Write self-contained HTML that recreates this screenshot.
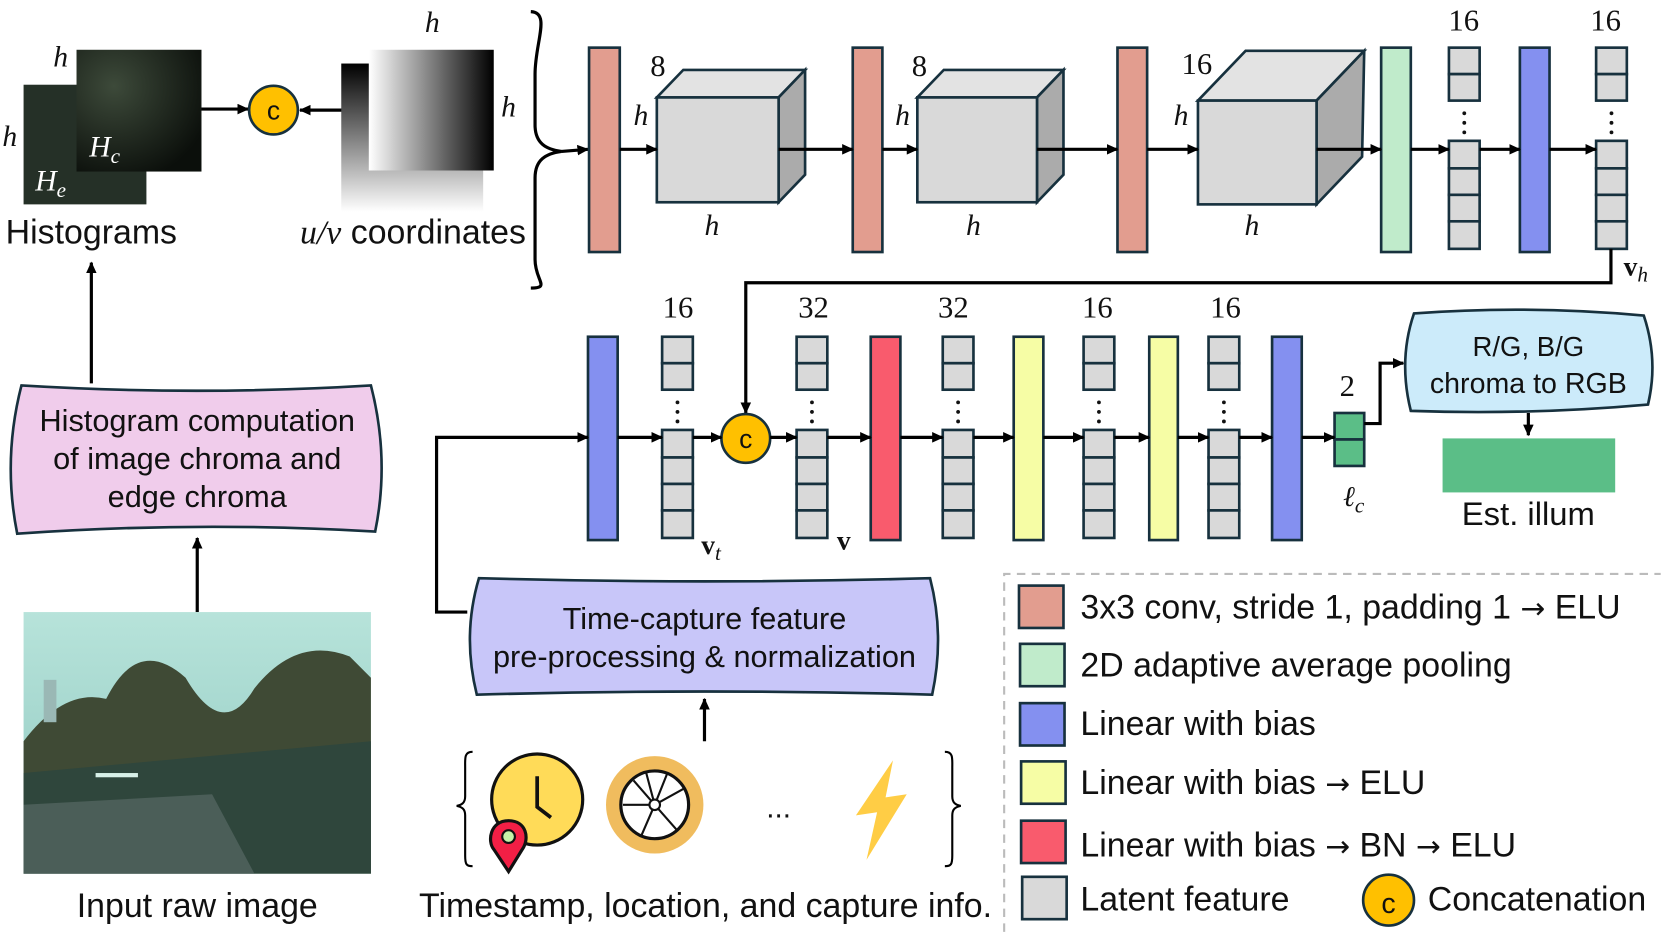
<!DOCTYPE html>
<html><head><meta charset="utf-8"><style>
html,body{margin:0;padding:0;background:#fff;}
svg{display:block;}
text{font-family:"Liberation Sans",sans-serif;fill:#111;}
.m{font-family:"Liberation Serif",serif;font-style:italic;}
.n{font-family:"Liberation Serif",serif;}
</style></head><body>
<svg width="1661" height="934" viewBox="0 0 1568 882" xmlns="http://www.w3.org/2000/svg">
<defs>
<marker id="a" markerWidth="11" markerHeight="10" refX="10" refY="5" orient="auto" markerUnits="userSpaceOnUse" viewBox="0 0 11 10"><path d="M0,0 L11,5 L0,10 z" fill="#000"/></marker>
<g id="vec" fill="#D9D9D9" stroke="#17313e" stroke-width="2.5">
<rect x="0" y="0" width="29" height="25"/><rect x="0" y="25" width="29" height="25"/>
<circle cx="14.5" cy="62" r="1.8" fill="#111" stroke="none"/><circle cx="14.5" cy="71" r="1.8" fill="#111" stroke="none"/><circle cx="14.5" cy="80" r="1.8" fill="#111" stroke="none"/>
<rect x="0" y="88" width="29" height="26"/><rect x="0" y="114" width="29" height="25"/><rect x="0" y="139" width="29" height="25"/><rect x="0" y="164" width="29" height="26"/>
</g>
<linearGradient id="gh" x1="0" x2="1" y1="0" y2="0"><stop offset="0" stop-color="#fff"/><stop offset="1" stop-color="#000"/></linearGradient>
<linearGradient id="gv" x1="0" x2="0" y1="0" y2="1"><stop offset="0" stop-color="#000"/><stop offset="1" stop-color="#fff"/></linearGradient>
<radialGradient id="hc" cx="0.3" cy="0.3" r="0.8"><stop offset="0" stop-color="#3d4a3a"/><stop offset="1" stop-color="#0b0f0b"/></radialGradient>
<linearGradient id="sky" x1="0" x2="0" y1="0" y2="1"><stop offset="0" stop-color="#b7e3da"/><stop offset="1" stop-color="#8fc8c0"/></linearGradient>
</defs>

<rect x="22" y="80" width="116" height="113" fill="#253027"/>
<rect x="72" y="47" width="118" height="115" fill="url(#hc)"/>
<text x="50" y="63" class="m" font-size="28">h</text>
<text x="2" y="138" class="m" font-size="28">h</text>
<text x="84" y="148" class="m" font-size="28" style="fill:#fff">H<tspan font-size="20" dy="6">c</tspan></text>
<text x="33" y="180" class="m" font-size="28" style="fill:#fff">H<tspan font-size="20" dy="6">e</tspan></text>
<text x="86" y="230" font-size="32" text-anchor="middle">Histograms</text>

<line x1="190" y1="103" x2="234" y2="103" stroke="#000" stroke-width="3" marker-end="url(#a)"/>
<circle cx="258" cy="104" r="23" fill="#FFC000" stroke="#17313e" stroke-width="2.5"/>
<text x="258" y="113" font-size="25" text-anchor="middle">c</text>
<line x1="325" y1="104" x2="283" y2="104" stroke="#000" stroke-width="3" marker-end="url(#a)"/>

<rect x="322" y="60" width="134" height="140" fill="url(#gv)"/>
<rect x="348" y="47" width="118" height="114" fill="url(#gh)"/>
<text x="401" y="30" class="m" font-size="28">h</text>
<text x="473" y="110" class="m" font-size="28">h</text>
<text x="283" y="230" font-size="32"><tspan class="m" font-family="Liberation Serif">u/v</tspan> coordinates</text>

<path d="M501,11 C520,12 505,40 505,70 L505,118 C505,135 515,141 530,143 C515,145 505,151 505,168 L505,245 C505,265 520,272 501,272" fill="none" stroke="#000" stroke-width="3"/>
<line x1="530" y1="143" x2="555" y2="141" stroke="#000" stroke-width="3" marker-end="url(#a)"/>

<g stroke="#17313e" stroke-width="2.5">
<rect x="556" y="45" width="29" height="193" fill="#E29D8F"/>
<rect x="805" y="45" width="28" height="193" fill="#E29D8F"/>
<rect x="1055" y="45" width="28" height="193" fill="#E29D8F"/>
<rect x="1304" y="45" width="28" height="193" fill="#C0EBCB"/>
<rect x="1435" y="45" width="28" height="193" fill="#8490F0"/>
<polygon points="620,92 645,66 760,66 735,92" fill="#E3E3E3"/>
<polygon points="735,92 760,66 760,165 735,191" fill="#ABABAB"/>
<rect x="620" y="92" width="115" height="99" fill="#D9D9D9"/>
<polygon points="866,92 891,66 1004,66 979,92" fill="#E3E3E3"/>
<polygon points="979,92 1004,66 1004,165 979,191" fill="#ABABAB"/>
<rect x="866" y="92" width="113" height="99" fill="#D9D9D9"/>
<polygon points="1131,95 1176,48 1288,48 1243,95" fill="#E3E3E3"/>
<polygon points="1243,95 1288,48 1286,148 1243,193" fill="#ABABAB"/>
<rect x="1131" y="95" width="112" height="98" fill="#D9D9D9"/>
</g>
<use href="#vec" x="1368" y="45"/>
<use href="#vec" x="1507" y="45"/>
<text x="621" y="72" class="n" font-size="29" text-anchor="middle">8</text>
<text x="605" y="118" class="m" font-size="28" text-anchor="middle">h</text>
<text x="672" y="222" class="m" font-size="28" text-anchor="middle">h</text>
<text x="868" y="72" class="n" font-size="29" text-anchor="middle">8</text>
<text x="852" y="118" class="m" font-size="28" text-anchor="middle">h</text>
<text x="919" y="222" class="m" font-size="28" text-anchor="middle">h</text>
<text x="1130" y="70" class="n" font-size="29" text-anchor="middle">16</text>
<text x="1115" y="118" class="m" font-size="28" text-anchor="middle">h</text>
<text x="1182" y="222" class="m" font-size="28" text-anchor="middle">h</text>
<text x="1382" y="29" class="n" font-size="29" text-anchor="middle">16</text>
<text x="1516" y="29" class="n" font-size="29" text-anchor="middle">16</text>
<text x="1533" y="260" class="n" font-size="26" font-weight="bold">v<tspan class="m" font-weight="normal" font-size="20" dy="6">h</tspan></text>
<g stroke="#000" stroke-width="3" marker-end="url(#a)">
<line x1="585" y1="141" x2="620" y2="141"/>
<line x1="735" y1="141" x2="805" y2="141"/>
<line x1="833" y1="141" x2="866" y2="141"/>
<line x1="979" y1="141" x2="1055" y2="141"/>
<line x1="1083" y1="141" x2="1131" y2="141"/>
<line x1="1243" y1="141" x2="1304" y2="141"/>
<line x1="1332" y1="141" x2="1368" y2="141"/>
<line x1="1397" y1="141" x2="1435" y2="141"/>
<line x1="1463" y1="141" x2="1507" y2="141"/>
</g>
<polyline points="1521,235 1521,267 704,267 704,390" fill="none" stroke="#000" stroke-width="3" marker-end="url(#a)"/>

<g stroke="#17313e" stroke-width="2.5">
<rect x="555" y="318" width="28" height="192" fill="#8490F0"/>
<rect x="822" y="318" width="28" height="192" fill="#F95B6D"/>
<rect x="957" y="318" width="28" height="192" fill="#F6FDA5"/>
<rect x="1085" y="318" width="27" height="192" fill="#F6FDA5"/>
<rect x="1201" y="318" width="28" height="192" fill="#8490F0"/>
<rect x="1260" y="390" width="28" height="25" fill="#5BBE87"/>
<rect x="1260" y="415" width="28" height="25" fill="#5BBE87"/>
</g>
<use href="#vec" x="625" y="318"/>
<use href="#vec" x="752" y="318"/>
<use href="#vec" x="890" y="318"/>
<use href="#vec" x="1023" y="318"/>
<use href="#vec" x="1141" y="318"/>
<circle cx="704" cy="414" r="23" fill="#FFC000" stroke="#17313e" stroke-width="2.5"/>
<text x="704" y="423" font-size="25" text-anchor="middle">c</text>
<text x="640" y="300" class="n" font-size="29" text-anchor="middle">16</text>
<text x="768" y="300" class="n" font-size="29" text-anchor="middle">32</text>
<text x="900" y="300" class="n" font-size="29" text-anchor="middle">32</text>
<text x="1036" y="300" class="n" font-size="29" text-anchor="middle">16</text>
<text x="1157" y="300" class="n" font-size="29" text-anchor="middle">16</text>
<text x="1272" y="374" class="n" font-size="29" text-anchor="middle">2</text>
<text x="1268" y="478" class="m" font-size="27">ℓ<tspan font-size="20" dy="6">c</tspan></text>
<text x="662" y="523" class="n" font-size="26" font-weight="bold">v<tspan class="m" font-weight="normal" font-size="20" dy="6">t</tspan></text>
<text x="790" y="519" class="n" font-size="26" font-weight="bold">v</text>
<g stroke="#000" stroke-width="3" marker-end="url(#a)">
<line x1="583" y1="413" x2="625" y2="413"/>
<line x1="654" y1="413" x2="681" y2="413"/>
<line x1="727" y1="413" x2="752" y2="413"/>
<line x1="781" y1="413" x2="822" y2="413"/>
<line x1="850" y1="413" x2="890" y2="413"/>
<line x1="919" y1="413" x2="957" y2="413"/>
<line x1="1052" y1="413" x2="1085" y2="413"/>
<line x1="985" y1="413" x2="1023" y2="413"/>
<line x1="1112" y1="413" x2="1141" y2="413"/>
<line x1="1170" y1="413" x2="1201" y2="413"/>
<line x1="1229" y1="413" x2="1260" y2="413"/>
</g>
<polyline points="1288,400 1303,400 1303,343 1325,343" fill="none" stroke="#000" stroke-width="3" marker-end="url(#a)"/>
<path d="M1335,296 Q1443,288 1552,298 Q1566,340 1556,382 Q1443,392 1332,388 Q1320,340 1335,296 z" fill="#CCEBFA" stroke="#17313e" stroke-width="2.5"/>
<text x="1443" y="336" font-size="26" text-anchor="middle">R/G, B/G</text>
<text x="1443" y="371" font-size="27" text-anchor="middle">chroma to RGB</text>
<line x1="1443" y1="390" x2="1443" y2="411" stroke="#000" stroke-width="3" marker-end="url(#a)"/>
<rect x="1362" y="414" width="163" height="51" fill="#5BBE87"/>
<text x="1443" y="496" font-size="31" text-anchor="middle">Est. illum</text>

<polyline points="441,578 412,578 412,413 555,413" fill="none" stroke="#000" stroke-width="3" marker-end="url(#a)"/>
<path d="M452,546 Q665,552 878,546 Q892,600 880,656 Q665,650 450,656 Q436,600 452,546 z" fill="#C8C6F9" stroke="#17313e" stroke-width="2.5"/>
<text x="665" y="594" font-size="29" text-anchor="middle">Time-capture feature</text>
<text x="665" y="630" font-size="29" text-anchor="middle">pre-processing &amp; normalization</text>
<line x1="665" y1="700" x2="665" y2="660" stroke="#000" stroke-width="3" marker-end="url(#a)"/>
<path d="M446,710 C438,710 439,716 439,725 L439,752 C439,758 436,760 431,761 C436,762 439,764 439,770 L439,808 C439,816 440,818 446,818" fill="none" stroke="#000" stroke-width="2"/>
<path d="M892,710 C900,710 899,716 899,725 L899,752 C899,758 902,760 907,761 C902,762 899,764 899,770 L899,808 C899,816 898,818 892,818" fill="none" stroke="#000" stroke-width="2"/>
<circle cx="507" cy="755" r="43" fill="#FFDB58" stroke="#111" stroke-width="3"/>
<path d="M507,733 L507,762 L520,772" fill="none" stroke="#111" stroke-width="3.5"/>
<path d="M480,775 C462,775 460,795 466,802 L480,823 L493,802 C500,792 497,775 480,775 z" fill="#F21F45" stroke="#111" stroke-width="3"/>
<circle cx="480" cy="790" r="6" fill="#c6f3a8" stroke="#111" stroke-width="2"/>
<circle cx="618" cy="760" r="46" fill="#F0BC5E"/>
<circle cx="618" cy="760" r="32" fill="#fff" stroke="#111" stroke-width="3"/>
<g stroke="#111" stroke-width="2" fill="none">
<path d="M618,760 L610,730 M618,760 L645,745 M618,760 L640,785 M618,760 L605,790 M618,760 L588,760 M618,760 L598,737 M618,760 L630,730"/>
</g>
<circle cx="618" cy="760" r="5" fill="#fff" stroke="#111" stroke-width="2"/>
<text x="735" y="772" font-size="28" text-anchor="middle">...</text>
<path d="M843,718 L808,770 L828,767 L818,812 L856,750 L836,753 z" fill="#FFCD45"/>
<text x="666" y="866" font-size="32" text-anchor="middle">Timestamp, location, and capture info.</text>

<line x1="86" y1="362" x2="86" y2="248" stroke="#000" stroke-width="3" marker-end="url(#a)"/>
<path d="M20,364 Q186,374 350,364 Q368,434 354,502 Q186,492 16,504 Q2,434 20,364 z" fill="#F0CCEB" stroke="#17313e" stroke-width="2.5"/>
<text x="186" y="407" font-size="29" text-anchor="middle">Histogram computation</text>
<text x="186" y="443" font-size="29" text-anchor="middle">of image chroma and</text>
<text x="186" y="479" font-size="29" text-anchor="middle">edge chroma</text>
<line x1="186" y1="578" x2="186" y2="508" stroke="#000" stroke-width="3" marker-end="url(#a)"/>
<rect x="22" y="578" width="328" height="247" fill="url(#sky)"/>
<path d="M22,700 Q60,650 100,660 Q130,600 175,640 Q210,700 240,650 Q280,600 330,620 L350,640 L350,825 L22,825 z" fill="#3f4a35"/>
<path d="M22,730 L350,700 L350,825 L22,825 z" fill="#2f463c"/>
<path d="M22,760 L200,750 L240,825 L22,825 z" fill="#4b5e58"/>
<rect x="90" y="730" width="40" height="4" fill="#d8f0e8"/>
<rect x="41" y="642" width="12" height="40" fill="#9ab8b5"/>
<text x="186" y="866" font-size="32" text-anchor="middle">Input raw image</text>

<path d="M948,880 L948,542 L1568,542" fill="none" stroke="#bbb" stroke-width="2" stroke-dasharray="8,6"/>
<g stroke="#17313e" stroke-width="2.5">
<rect x="962" y="553" width="42" height="40" fill="#E29D8F"/>
<rect x="963" y="608" width="42" height="40" fill="#C0EBCB"/>
<rect x="963" y="664" width="42" height="40" fill="#8490F0"/>
<rect x="964" y="719" width="42" height="40" fill="#F6FDA5"/>
<rect x="964" y="775" width="42" height="40" fill="#F95B6D"/>
<rect x="965" y="828" width="42" height="40" fill="#D9D9D9"/>
</g>
<g font-size="32">
<text x="1020" y="584">3x3 conv, stride 1, padding 1 <tspan font-family="DejaVu Sans" font-size="28">→</tspan> ELU</text>
<text x="1020" y="639">2D adaptive average pooling</text>
<text x="1020" y="694">Linear with bias</text>
<text x="1020" y="750">Linear with bias <tspan font-family="DejaVu Sans" font-size="28">→</tspan> ELU</text>
<text x="1020" y="809">Linear with bias <tspan font-family="DejaVu Sans" font-size="28">→</tspan> BN <tspan font-family="DejaVu Sans" font-size="28">→</tspan> ELU</text>
<text x="1020" y="860">Latent feature</text>
<text x="1348" y="860">Concatenation</text>
</g>
<circle cx="1311" cy="850" r="24" fill="#FFC000" stroke="#17313e" stroke-width="2.5"/>
<text x="1311" y="862" font-size="27" text-anchor="middle">c</text>
</svg>
</body></html>
